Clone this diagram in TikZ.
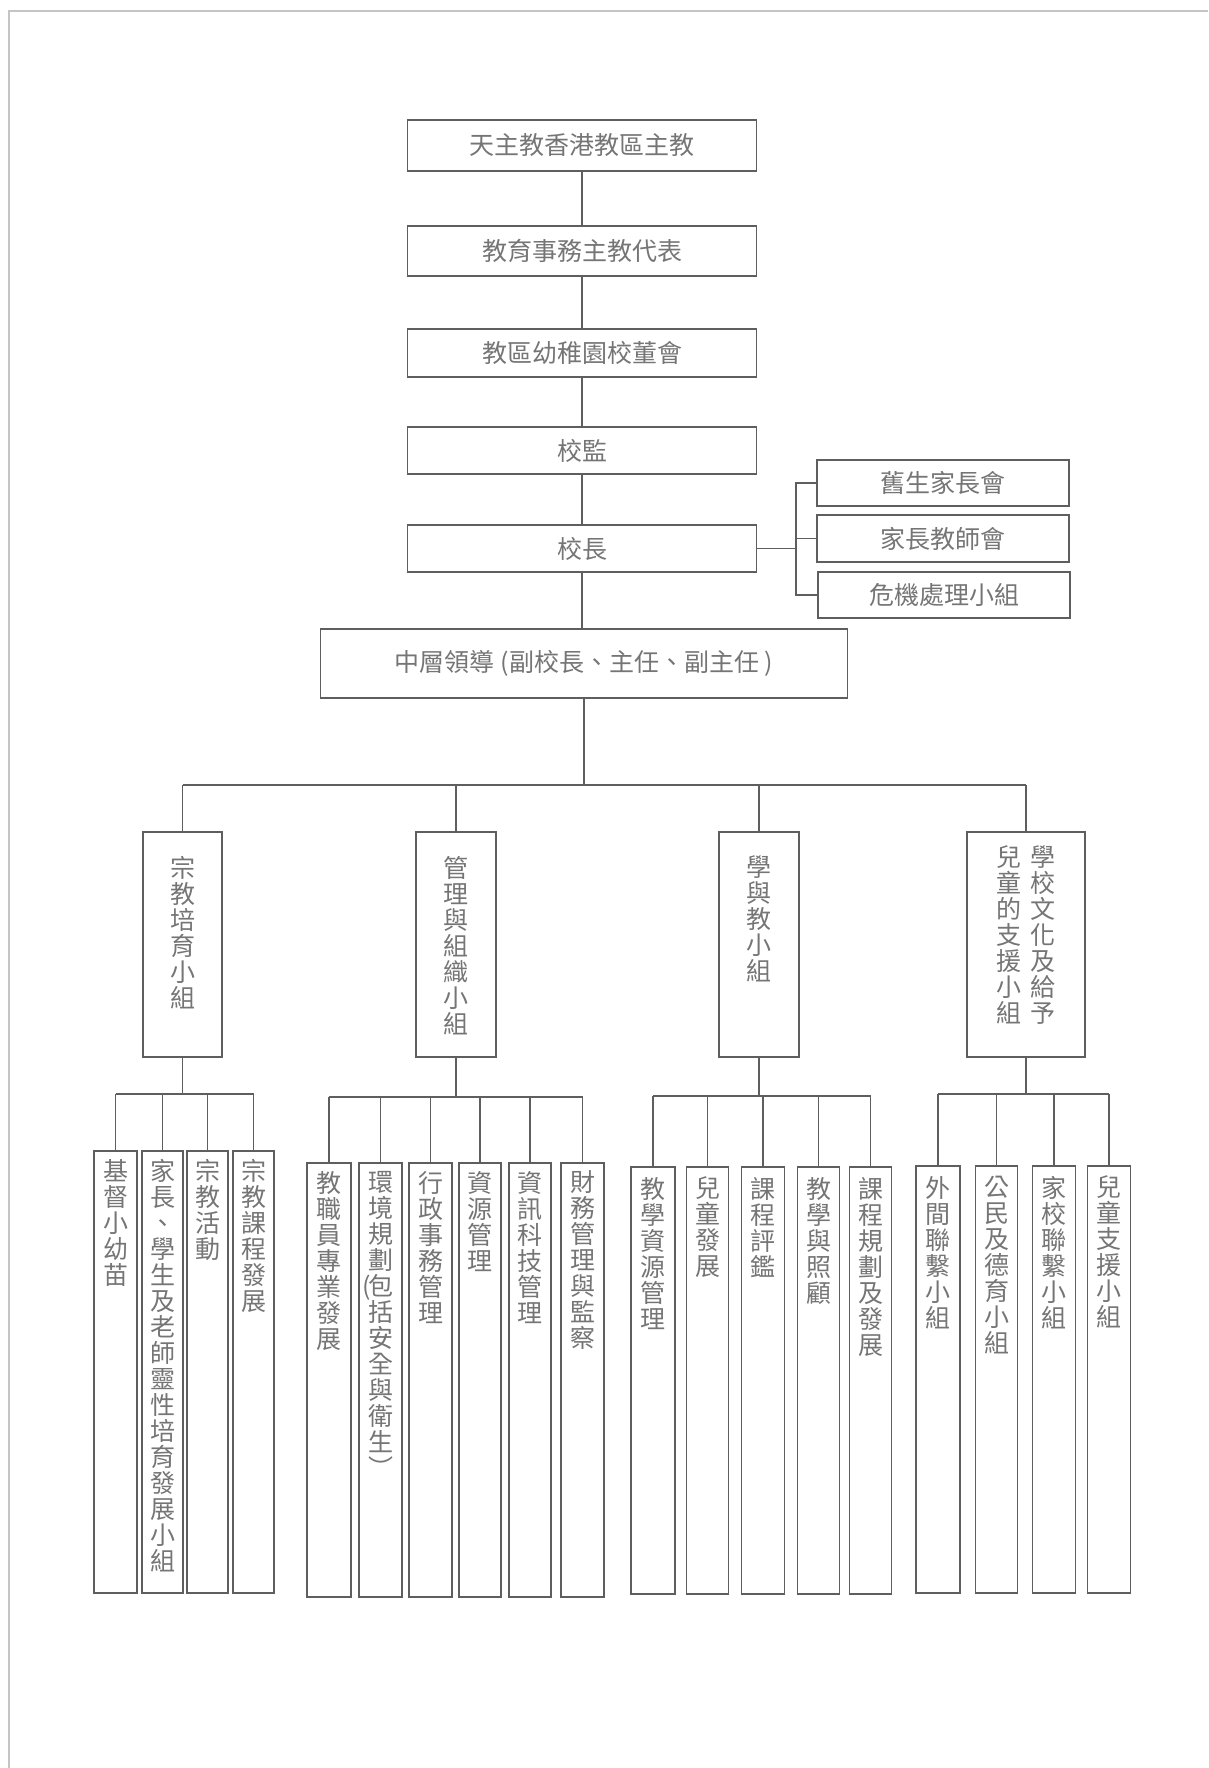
\documentclass[tikz,border=0pt]{standalone}
\usepackage{fontspec}
\setmainfont{Noto Sans CJK TC}
\definecolor{linegray}{HTML}{5E5E5E}
\definecolor{inkgray}{HTML}{757575}
\definecolor{edgegray}{HTML}{C4C4C4}
\newcommand{\vcol}[3]{\parbox[c][#1][t]{30pt}{\centering\vspace*{#2}#3}}

\begin{document}
\begin{tikzpicture}[x=1pt, y=-1pt, every node/.style={draw=linegray, line width=1.8pt, text=inkgray, inner sep=0pt, font=\fontsize{25}{26}\selectfont}, wide/.style={minimum width=349pt, minimum height=49pt}, link/.style={draw=linegray, line width=1.8pt}]
	\useasboundingbox (0,0) rectangle (1208,1768);
	\draw[edgegray, line width=1.5pt] (9,1768) -- (9,11) -- (1208,11);

	\node[wide, minimum height=51pt] (a) at (582,145.5) {天主教香港教區主教};
	\node[wide, minimum height=50pt] (b) at (582,251) {教育事務主教代表};
	\node[wide, minimum height=48pt] (c) at (582,353) {教區幼稚園校董會};
	\node[wide, minimum height=47pt] (d) at (582,450.5) {校監};
	\node[wide, minimum height=47pt] (e) at (582,548.5) {校長};
	\draw[link] (a) -- (b) -- (c) -- (d) -- (e);

	\node[minimum width=252pt, minimum height=46pt] (f) at (943,483) {舊生家長會};
	\node[minimum width=252pt, minimum height=47pt] (g) at (943,538.5) {家長教師會};
	\node[minimum width=252pt, minimum height=46pt] (h) at (944,595) {危機處理小組};
	\coordinate (br) at (796,548);
	\draw[link] (e.east) -- (br |- e.east);
	\draw[link] (f.west) -| (br |- h.west) -- (h.west);
	\draw[link] (g.west) -- (br |- g.west);

	\node[minimum width=527pt, minimum height=69pt] (i) at (584,663.5) {中層領導 (副校長、主任、副主任 )};
	\draw[link] (e.south) -- (e.south |- i.north);

	\node[minimum width=79pt] (j) at (182.5,944.5) {\vcol{225pt}{24pt}{宗\\教\\培\\育\\小\\組}};
	\node[minimum width=80pt] (k) at (456,944.5) {\vcol{225pt}{24pt}{管\\理\\與\\組\\織\\小\\組}};
	\node[minimum width=80pt] (l) at (759,944.5) {\vcol{225pt}{24pt}{學\\與\\教\\小\\組}};
	\node[minimum width=118pt] (m) at (1026,944.5) {\parbox[c][225pt][t]{100pt}{\centering\vspace*{14pt}\parbox[t]{26pt}{\centering 兒\\童\\的\\支\\援\\小\\組}\hspace{8pt}\parbox[t]{26pt}{\centering 學\\校\\文\\化\\及\\給\\予}}};
	\coordinate (bus) at (0,785);
	\draw[link] (i.south) -- (i.south |- bus);
	\draw[link] (j.north |- bus) -- (m.north |- bus);
	\foreach \n in {j,k,l,m} \draw[link] (\n.north |- bus) -- (\n.north);

	\node[minimum width=43pt] (n1) at (115.5,1372) {\vcol{442pt}{8pt}{基\\督\\小\\幼\\苗}};
	\node[minimum width=41pt] (n2) at (162.5,1372) {\vcol{442pt}{8pt}{家\\長\\、\\學\\生\\及\\老\\師\\靈\\性\\培\\育\\發\\展\\小\\組}};
	\node[minimum width=41pt] (n3) at (207.5,1372) {\vcol{442pt}{8pt}{宗\\教\\活\\動}};
	\node[minimum width=41pt] (n4) at (253.5,1372) {\vcol{442pt}{8pt}{宗\\教\\課\\程\\發\\展}};
	\coordinate (bus1) at (0,1094);
	\draw[link] (j.south) -- (j.south |- bus1);
	\draw[link] (n1.north |- bus1) -- (n4.north |- bus1);
	\foreach \n in {n1,n2,n3,n4} \draw[link] (\n.north |- bus1) -- (\n.north);

	\node[minimum width=44pt] (o1) at (329,1380) {\vcol{434pt}{8pt}{教\\職\\員\\專\\業\\發\\展}};
	\node[minimum width=43pt] (o2) at (380.5,1380) {\vcol{434pt}{8pt}{環\\境\\規\\劃\\\makebox[0pt][r]{(\kern-3pt}包\\括\\安\\全\\與\\衛\\生\\︶}};
	\node[minimum width=43pt] (o3) at (430.5,1380) {\vcol{434pt}{8pt}{行\\政\\事\\務\\管\\理}};
	\node[minimum width=42pt] (o4) at (480,1380) {\vcol{434pt}{8pt}{資\\源\\管\\理}};
	\node[minimum width=42pt] (o5) at (530,1380) {\vcol{434pt}{8pt}{資\\訊\\科\\技\\管\\理}};
	\node[minimum width=43pt] (o6) at (582.5,1380) {\vcol{434pt}{8pt}{財\\務\\管\\理\\與\\監\\察}};
	\coordinate (bus2) at (0,1097);
	\draw[link] (k.south) -- (k.south |- bus2);
	\draw[link] (o1.north |- bus2) -- (o6.north |- bus2);
	\foreach \n in {o1,o2,o3,o4,o5,o6} \draw[link] (\n.north |- bus2) -- (\n.north);

	\node[minimum width=44pt] (p1) at (653,1380.5) {\vcol{427pt}{10pt}{教\\學\\資\\源\\管\\理}};
	\node[minimum width=42pt] (p2) at (707.5,1380.5) {\vcol{427pt}{10pt}{兒\\童\\發\\展}};
	\node[minimum width=43pt] (p3) at (763,1380.5) {\vcol{427pt}{10pt}{課\\程\\評\\鑑}};
	\node[minimum width=42pt] (p4) at (818.5,1380.5) {\vcol{427pt}{10pt}{教\\學\\與\\照\\顧}};
	\node[minimum width=42pt] (p5) at (870.5,1380.5) {\vcol{427pt}{10pt}{課\\程\\規\\劃\\及\\發\\展}};
	\coordinate (bus3) at (0,1096);
	\draw[link] (l.south) -- (l.south |- bus3);
	\draw[link] (p1.north |- bus3) -- (p5.north |- bus3);
	\foreach \n in {p1,p2,p3,p4,p5} \draw[link] (\n.north |- bus3) -- (\n.north);

	\node[minimum width=44pt] (q1) at (938,1379.5) {\vcol{427pt}{10pt}{外\\間\\聯\\繫\\小\\組}};
	\node[minimum width=42pt] (q2) at (996.5,1379.5) {\vcol{427pt}{10pt}{公\\民\\及\\德\\育\\小\\組}};
	\node[minimum width=43pt] (q3) at (1054,1379.5) {\vcol{427pt}{10pt}{家\\校\\聯\\繫\\小\\組}};
	\node[minimum width=43pt] (q4) at (1109,1379.5) {\vcol{427pt}{10pt}{兒\\童\\支\\援\\小\\組}};
	\coordinate (bus4) at (0,1094);
	\draw[link] (m.south) -- (m.south |- bus4);
	\draw[link] (q1.north |- bus4) -- (q4.north |- bus4);
	\foreach \n in {q1,q2,q3,q4} \draw[link] (\n.north |- bus4) -- (\n.north);
\end{tikzpicture}
\end{document}
